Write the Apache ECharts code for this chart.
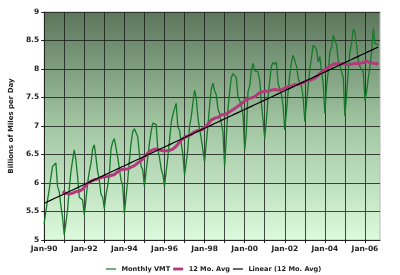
<!DOCTYPE html>
<html><head><meta charset="utf-8">
<script src="https://cdn.jsdelivr.net/npm/echarts@6/dist/echarts.min.js"></script>
<style>html,body{margin:0;padding:0;background:#fff}#c{width:400px;height:275px}</style>
</head><body><div id="c"></div>
<script>
// ---- data ----
const monthNames = ['Jan','Feb','Mar','Apr','May','Jun','Jul','Aug','Sep','Oct','Nov','Dec'];
const yearLabels = ['90','91','92','93','94','95','96','97','98','99','00','01','02','03','04','05','06'];
const axisMonths = 202; // Jan-90 .. Oct-06 on the axis
const monthlyVMT = [
  5.29,5.50,5.70,5.88,6.10,6.29,6.32,6.35,5.94,5.85,5.60,5.40, // 1990
  5.09,5.30,5.53,5.90,6.20,6.40,6.58,6.40,6.11,5.75,5.75,5.70, // 1991
  5.44,5.70,6.00,6.20,6.35,6.60,6.67,6.45,6.20,6.05,5.80,5.75, // 1992
  5.55,5.80,5.95,6.15,6.60,6.72,6.78,6.75,6.45,6.25,6.05,5.95, // 1993
  5.47,5.75,6.05,6.40,6.70,6.90,6.95,6.93,6.81,6.50,6.30,6.23, // 1994
  5.94,6.20,6.45,6.70,6.90,7.05,7.08,7.03,6.60,6.45,6.25,6.15, // 1995
  5.94,6.20,6.45,6.75,7.05,7.20,7.30,7.40,6.98,6.93,6.70,6.50, // 1996
  6.14,6.35,6.60,7.00,7.15,7.40,7.63,7.50,7.15,6.95,6.78,6.80, // 1997
  6.37,6.70,7.00,7.35,7.65,7.75,7.62,7.55,7.30,7.22,7.05,6.90, // 1998
  6.29,6.80,7.30,7.60,7.85,7.92,7.90,7.85,7.50,7.45,7.35,7.20, // 1999
  6.58,6.90,7.60,7.70,7.98,8.10,7.97,8.00,7.95,7.80,7.40,7.10, // 2000
  6.78,7.10,7.50,7.80,8.05,8.12,8.08,8.12,7.75,7.65,7.55,7.35, // 2001
  6.93,7.25,7.60,7.90,8.12,8.24,8.27,8.05,7.85,7.75,7.70,7.50, // 2002
  7.08,7.40,7.70,8.00,8.20,8.42,8.44,8.35,8.12,8.22,7.95,7.75, // 2003
  7.22,7.70,7.95,8.30,8.38,8.59,8.56,8.42,8.15,8.06,7.95,7.85, // 2004
  7.17,7.55,7.95,8.30,8.45,8.70,8.65,8.42,8.15,8.04,8.03,7.95, // 2005
  7.45,7.60,7.85,8.05,8.30,8.71,8.45,8.48,8.42                 // 2006
];
const seriesNames = ['Monthly VMT','12 Mo. Avg','Linear (12 Mo. Avg)'];
const maPeriod = 12;
const yMin = 5, yMax = 9, yStep = 0.5;

// ---- derived ----
const categories = [];
yearLabels.forEach(y => monthNames.forEach(m => categories.push(m + '-' + y)));
categories.length = axisMonths;

const movingAvg = monthlyVMT.map((v, i) => {
  if (i < maPeriod - 1) return null;
  let s = 0; for (let k = i - maPeriod + 1; k <= i; k++) s += monthlyVMT[k];
  return s / maPeriod;
});
// least squares linear fit of the moving average, drawn over the data range
let n = 0, sx = 0, sy = 0, sxx = 0, sxy = 0;
movingAvg.forEach((v, i) => { if (v != null) { n++; sx += i; sy += v; sxx += i * i; sxy += i * v; } });
const slope = (n * sxy - sx * sy) / (n * sxx - sx * sx);
const icpt = (sy - slope * sx) / n;
const trend = monthlyVMT.map((v, i) => icpt + slope * i);

const thinIcon = 'path://M0,0M0,8M0,3.4H10V4.6H0Z';
const thickIcon = 'path://M0,0M0,8M0,2.6H10V5.4H0Z';

const font = 'DejaVu Sans';
const chart = echarts.init(document.getElementById('c'), null, {renderer: 'canvas'});
chart.setOption({
  animation: false,
  textStyle: {fontFamily: font},
  grid: {
    left: 39, right: 20, top: 12, bottom: 35, show: true,
    borderColor: '#b8b8b8', borderWidth: 1,
    backgroundColor: new echarts.graphic.LinearGradient(0, 0, 0, 1, [
      {offset: 0, color: '#5c765c'},
      {offset: 0.5, color: '#a2c6a2'},
      {offset: 1, color: '#dcfadc'}
    ])
  },
  legend: {
    left: 101, top: 260, itemWidth: 11, itemHeight: 8, itemGap: 3,
    textStyle: {fontFamily: font, fontWeight: 'bold', fontSize: 6.6, color: '#222'},
    data: [
      {name: seriesNames[0], icon: thinIcon},
      {name: seriesNames[1], icon: thickIcon},
      {name: seriesNames[2], icon: thinIcon}
    ]
  },
  xAxis: {
    type: 'category', boundaryGap: false, data: categories,
    axisLine: {lineStyle: {color: '#222', width: 1}},
    axisTick: {show: true, length: 3, interval: (i) => i % 12 === 0, lineStyle: {color: '#222'}},
    axisLabel: {interval: (i) => i % 24 === 0, margin: 5, fontFamily: font, fontWeight: 'bold', fontSize: 7.5, color: '#222'},
    splitLine: {show: true, interval: (i) => i % 12 === 0, lineStyle: {color: 'rgba(25,25,25,0.8)', width: 1}}
  },
  yAxis: {
    type: 'value', min: yMin, max: yMax, interval: yStep,
    name: 'Billions of Miles per Day', nameLocation: 'middle', nameGap: 26,
    nameTextStyle: {fontFamily: font, fontWeight: 'bold', fontSize: 7, color: '#222'},
    axisLine: {show: true, lineStyle: {color: '#222', width: 1}},
    axisTick: {show: true, length: 3, lineStyle: {color: '#222'}},
    axisLabel: {margin: 5, fontFamily: font, fontWeight: 'bold', fontSize: 7.5, color: '#222'},
    splitLine: {show: true, lineStyle: {color: 'rgba(25,25,25,0.8)', width: 1}}
  },
  series: [
    {name: seriesNames[0], type: 'line', data: monthlyVMT, symbol: 'none', z: 2,
     lineStyle: {color: '#17792b', width: 1.3}, itemStyle: {color: '#17792b'}},
    {name: seriesNames[1], type: 'line', data: movingAvg, symbol: 'none', z: 3,
     lineStyle: {color: '#b23a7a', width: 3}, itemStyle: {color: '#b23a7a'}},
    {name: seriesNames[2], type: 'line', data: trend, symbol: 'none', z: 4,
     lineStyle: {color: '#000', width: 1.2}, itemStyle: {color: '#000'}}
  ]
});
</script></body></html>
